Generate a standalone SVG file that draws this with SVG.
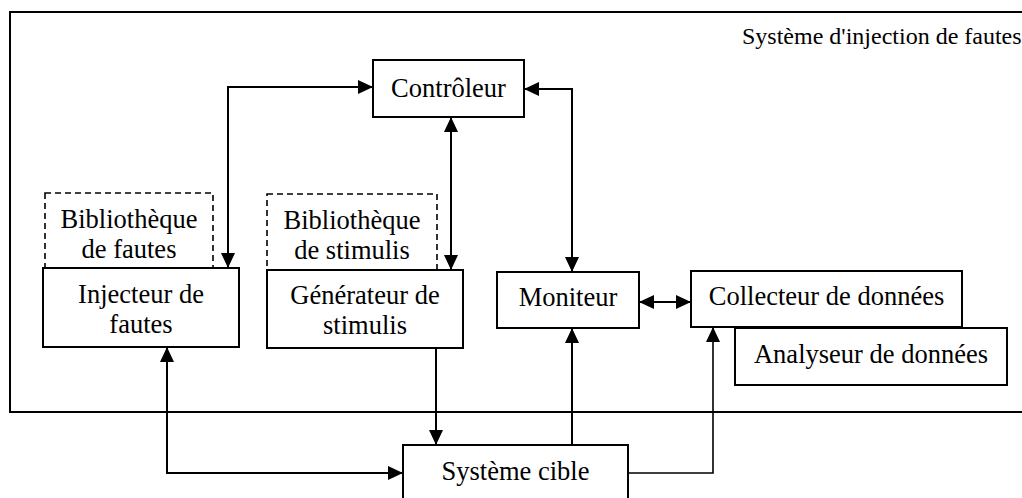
<svg xmlns="http://www.w3.org/2000/svg" width="1022" height="498" viewBox="0 0 1022 498">
<defs>
<style>
.box{fill:#fff;stroke:#000;stroke-width:2}
.dash{fill:none;stroke:#000;stroke-width:1.6;stroke-dasharray:6 4}
.frame{fill:none;stroke:#000;stroke-width:2}
.t{font-family:"Liberation Serif","Times New Roman",serif;font-size:26.5px;fill:#000;text-anchor:middle}
.title{font-family:"Liberation Serif","Times New Roman",serif;font-size:24px;fill:#000}
.c{fill:none;stroke:#000;stroke-width:2}
</style>
<marker id="ah" viewBox="0 0 15 14" markerUnits="userSpaceOnUse" markerWidth="15" markerHeight="14" refX="15" refY="7" orient="auto-start-reverse">
<path d="M0,0 L15,7 L0,14 z" fill="#000"/>
</marker>
</defs>
<rect width="1022" height="498" fill="#fff"/>
<g id="frame">
<rect class="frame" x="10" y="12" width="1030" height="400"/>
<text class="title" x="742" y="44">Système d'injection de fautes</text>
</g>
<g id="biblio-fautes">
<rect class="dash" x="45" y="193" width="168" height="75"/>
<text class="t" x="129" y="228">Bibliothèque</text>
<text class="t" x="129" y="258">de fautes</text>
</g>
<g id="biblio-stimulis">
<rect class="dash" x="267" y="194" width="170" height="76"/>
<text class="t" x="352" y="229">Bibliothèque</text>
<text class="t" x="352" y="259">de stimulis</text>
</g>
<g id="controleur">
<rect class="box" x="373" y="60" width="151" height="57"/>
<text class="t" x="448.5" y="97">Contrôleur</text>
</g>
<g id="injecteur">
<rect class="box" x="43" y="268" width="196" height="79"/>
<text class="t" x="141" y="303">Injecteur de</text>
<text class="t" x="141" y="333">fautes</text>
</g>
<g id="generateur">
<rect class="box" x="267" y="270" width="196" height="78"/>
<text class="t" x="365" y="304">Générateur de</text>
<text class="t" x="365" y="334">stimulis</text>
</g>
<g id="moniteur">
<rect class="box" x="497" y="272" width="142" height="56"/>
<text class="t" x="568" y="306">Moniteur</text>
</g>
<g id="collecteur">
<rect class="box" x="691" y="271" width="271" height="56"/>
<text class="t" x="826.5" y="305">Collecteur de données</text>
</g>
<g id="analyseur">
<rect class="box" x="735" y="328" width="272" height="57"/>
<text class="t" x="871" y="363">Analyseur de données</text>
</g>
<g id="systeme-cible">
<rect class="box" x="403" y="445" width="225" height="70"/>
<text class="t" x="515.5" y="480">Système cible</text>
</g>
<g id="connectors">
<path class="c" d="M228,268 V87 H373" marker-start="url(#ah)" marker-end="url(#ah)"/>
<path class="c" d="M524,89 H572 V272" marker-start="url(#ah)" marker-end="url(#ah)"/>
<path class="c" d="M451,117 V270" marker-start="url(#ah)" marker-end="url(#ah)"/>
<path class="c" d="M639,302 H691" marker-start="url(#ah)" marker-end="url(#ah)"/>
<path class="c" d="M167,347 V473 H403" marker-start="url(#ah)" marker-end="url(#ah)"/>
<path class="c" d="M436,348 V445" marker-end="url(#ah)"/>
<path class="c" d="M572,445 V328" marker-end="url(#ah)"/>
<path class="c" d="M628,473 H713 V327" marker-end="url(#ah)" style="stroke-width:1.6"/>
</g>
</svg>
